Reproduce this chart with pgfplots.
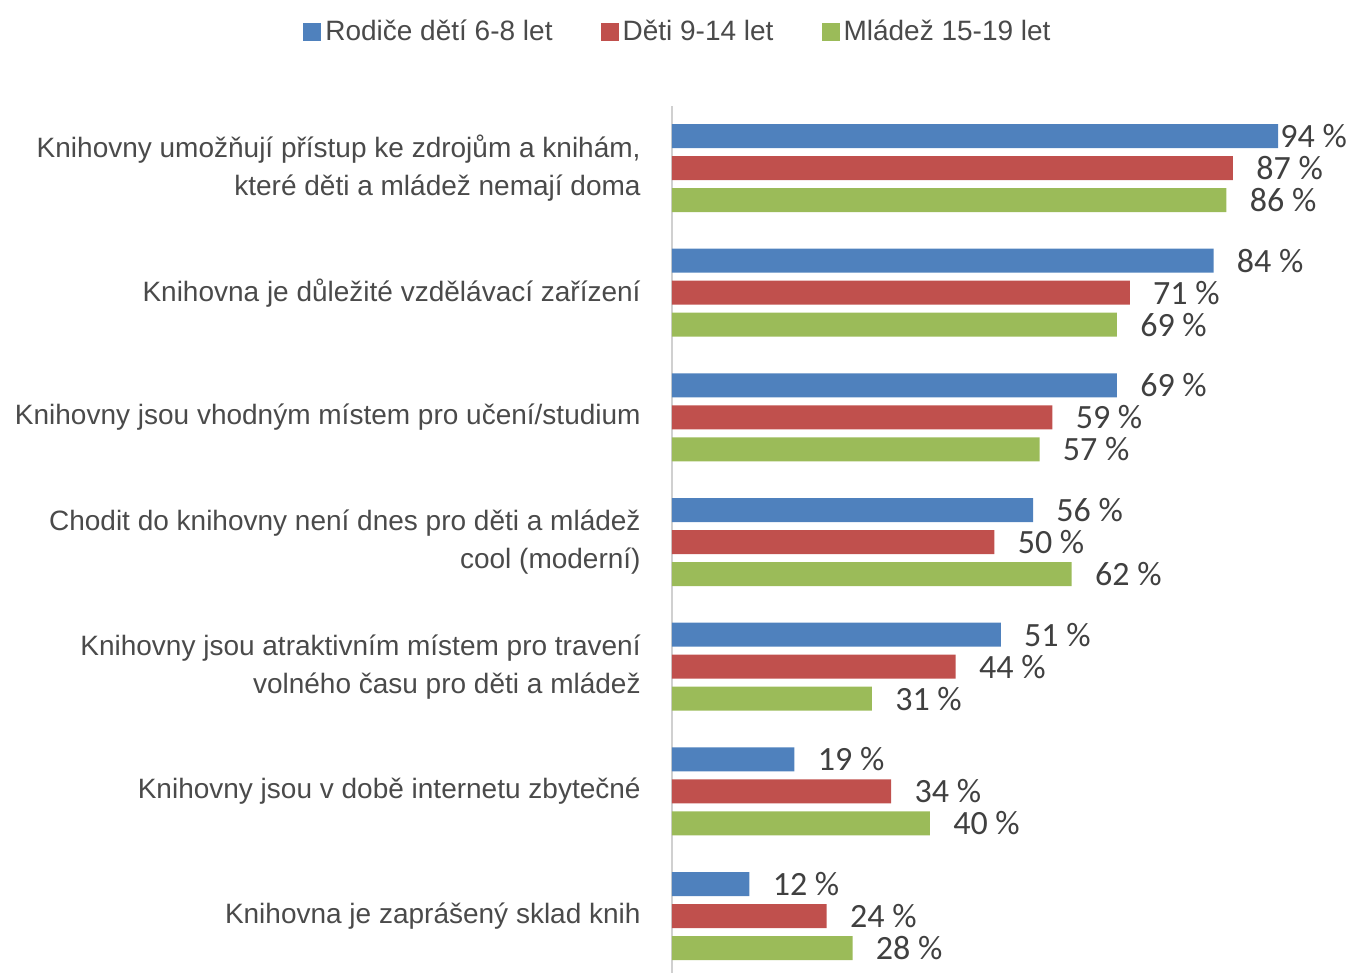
\documentclass[border=0pt]{standalone}
\usepackage{fontspec}
\setmainfont{Liberation Sans}
\newfontfamily\valfont{Carlito}
\usepackage{pgfplots}
\usepackage{pgfplotstable}
\pgfplotsset{compat=1.18}

\definecolor{cblue}{HTML}{4F81BD}
\definecolor{cred}{HTML}{C0504D}
\definecolor{cgreen}{HTML}{9BBB59}
\definecolor{ctext}{HTML}{4A4A4A}
\definecolor{cval}{HTML}{404040}
\definecolor{caxis}{HTML}{D0D0D0}

% y = 6 is the top category, off = gap (pt) between bar end and label
\pgfplotstableread{
y val off
6 94 1
5 84 11.5
4 69 11.5
3 56 11.5
2 51 11.5
1 19 11.5
0 12 11.5
}\rodice
\pgfplotstableread{
y val off
6 87 11.5
5 71 11.5
4 59 11.5
3 50 11.5
2 44 11.5
1 34 11.5
0 24 11.5
}\deti
\pgfplotstableread{
y val off
6 86 11.5
5 69 11.5
4 57 11.5
3 62 11.5
2 31 11.5
1 40 11.5
0 28 11.5
}\mladez

\begin{document}
\begin{tikzpicture}
\begin{axis}[
    at={(0,0)}, anchor=south west,
    width=338.5pt, height=433.65pt, scale only axis,
    xmin=0, xmax=105,
    ymin=-0.457, ymax=6.5,
    axis x line=none,
    axis y line*=left,
    y axis line style={draw=caxis, line width=1pt, -},
    major tick length=0pt,
    ytick={0,...,6},
    yticklabels={
        {Knihovna je zaprášený sklad knih},
        {Knihovny jsou v době internetu zbytečné},
        {Knihovny jsou atraktivním místem pro travení\\volného času pro děti a mládež},
        {Chodit do knihovny není dnes pro děti a mládež\\cool (moderní)},
        {Knihovny jsou vhodným místem pro učení/studium},
        {Knihovna je důležité vzdělávací zařízení},
        {Knihovny umožňují přístup ke zdrojům a knihám,\\které děti a mládež nemají doma}
    },
    y tick label style={align=right, font=\fontsize{14}{19}\selectfont,
        text=ctext, inner sep=0pt, xshift=-15.5pt},
    xbar, bar width=12pt,
    point meta=x,
    /pgf/number format/assume math mode=true,
    visualization depends on={\thisrow{off} \as \myoff},
    nodes near coords={\pgfmathprintnumber{\pgfplotspointmeta}~\%},
    every node near coord/.append style={anchor=west, inner sep=0pt,
        xshift=\myoff pt, text=cval,
        font=\valfont\fontsize{17}{17}\selectfont},
    legend columns=3,
    legend style={at={(0.0103,1.085)}, anchor=center, draw=none, fill=none,
        font=\fontsize{14}{16}\selectfont, text=ctext,
        /tikz/every even column/.append style={column sep=22pt}},
    legend image code/.code={\fill[#1] (0pt,-4.5pt) rectangle (9pt,4.5pt);},
    clip=false,
]
\addplot[fill=cblue, draw=none, bar shift=16pt] table[x=val, y=y] {\rodice};
\addplot[fill=cred, draw=none, bar shift=0pt] table[x=val, y=y] {\deti};
\addplot[fill=cgreen, draw=none, bar shift=-16pt] table[x=val, y=y] {\mladez};
\legend{Rodiče dětí 6-8 let, Děti 9-14 let, Mládež 15-19 let}
\end{axis}
\pgfresetboundingbox
\path[use as bounding box] (-336pt,0pt) rectangle (338.5pt,486.5pt);
\end{tikzpicture}
\end{document}
